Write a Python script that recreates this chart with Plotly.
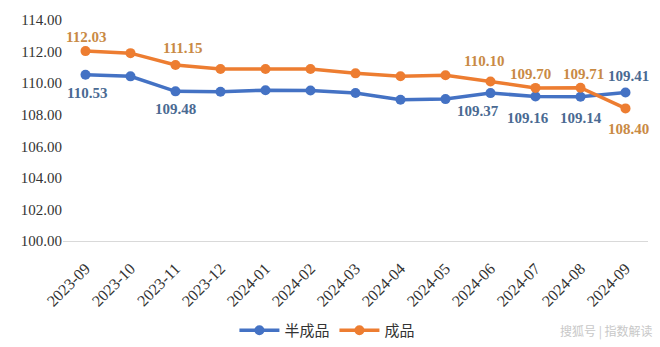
import plotly.graph_objects as go

months = ["2023-09", "2023-10", "2023-11", "2023-12", "2024-01", "2024-02", "2024-03",
          "2024-04", "2024-05", "2024-06", "2024-07", "2024-08", "2024-09"]
semi_finished = [110.53, 110.43, 109.48, 109.46, 109.55, 109.53, 109.38,
                 108.95, 108.99, 109.37, 109.16, 109.14, 109.41]
finished = [112.03, 111.90, 111.15, 110.90, 110.90, 110.90, 110.62,
            110.44, 110.50, 110.10, 109.70, 109.71, 108.40]
y_ticks = [100, 102, 104, 106, 108, 110, 112, 114]

label_idx = [0, 2, 9, 10, 11, 12]
# label pixel offsets (x, y) per labelled point
semi_shift = [(1, -18), (0, -18), (-13, -18), (-8, -22), (0, -21), (3, 16)]
fin_shift = [(0, 14), (7, 17), (-7, 21), (-5, 14), (3, 14), (3, -21)]

BLUE = "#4472C4"
ORANGE = "#ED7D31"
BLUE_TXT = "#4A6A92"
ORANGE_TXT = "#C98A45"
SERIF = "Liberation Serif"

fig = go.Figure()
fig.add_trace(go.Scatter(x=months, y=semi_finished, name="半成品", mode="lines+markers",
                         line=dict(color=BLUE, width=3.5), marker=dict(size=10, color=BLUE)))
fig.add_trace(go.Scatter(x=months, y=finished, name="成品", mode="lines+markers",
                         line=dict(color=ORANGE, width=3.5), marker=dict(size=10, color=ORANGE)))

for series, shifts, col in [(semi_finished, semi_shift, BLUE_TXT), (finished, fin_shift, ORANGE_TXT)]:
    for i, (dx, dy) in zip(label_idx, shifts):
        fig.add_annotation(x=months[i], y=series[i], text=f"{series[i]:.2f}", showarrow=False,
                           xshift=dx, yshift=dy,
                           font=dict(family=SERIF, size=15, color=col, weight="bold"))

fig.add_annotation(text="搜狐号 | 指数解读", xref="paper", yref="paper", x=1.012, y=-0.405,
                   xanchor="right", yanchor="middle", showarrow=False,
                   font=dict(family="Noto Sans CJK SC", size=12, color="#c8c8c8"))

fig.update_layout(
    width=660, height=347,
    margin=dict(l=63, r=12, t=20, b=106, autoexpand=False),
    plot_bgcolor="white", paper_bgcolor="white",
    showlegend=True,
    legend=dict(orientation="h", x=0.452, xanchor="center", y=-0.33, yanchor="top",
                font=dict(family="Noto Sans CJK SC", size=15, color="#333333"),
                itemwidth=40, tracegroupgap=0),
    xaxis=dict(type="category", tickangle=-45, showgrid=False, showline=True,
               linecolor="#d9d9d9", linewidth=1, ticks="", automargin=False,
               ticklabelstandoff=11,
               tickfont=dict(family=SERIF, size=16, color="#333333"),
               range=[-0.5, len(months) - 0.5]),
    yaxis=dict(range=[100, 114], tickvals=y_ticks, tickformat=".2f", showgrid=False,
               zeroline=False, showline=False, ticks="", automargin=False,
               tickfont=dict(family=SERIF, size=15, color="#333333")),
)

fig.write_html("out.html")
